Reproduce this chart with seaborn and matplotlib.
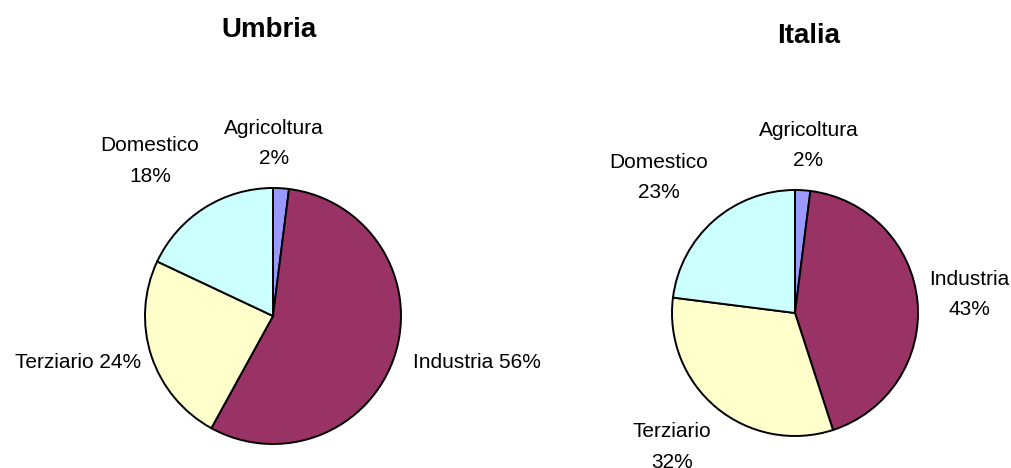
import matplotlib
matplotlib.use("Agg")
import matplotlib.pyplot as plt
import seaborn as sns

# ------------------------------------------------------------
# Dati: consumi per settore (%)
# ------------------------------------------------------------
settori = ["Agricoltura", "Industria", "Terziario", "Domestico"]
umbria = [2, 56, 24, 18]
italia = [2, 43, 32, 23]
colori = ["#9999FF", "#993366", "#FFFFCC", "#CCFFFF"]

sns.set_theme(style="white")
plt.rcParams["font.family"] = ["Liberation Sans", "DejaVu Sans"]
plt.rcParams["text.color"] = "black"

W, H = 1012, 468
fig = plt.figure(figsize=(W / 100, H / 100), dpi=100)


def torta(titolo, valori, cx, cy, r, x0, x1, pos_etichette, sep, tx, ty):
    # axes in pixel-like units: 1 data unit = radius r
    ax = fig.add_axes([x0 / W, 0, (x1 - x0) / W, 1])
    ax.pie(valori, colors=colori, startangle=90, counterclock=False,
           wedgeprops=dict(edgecolor="black", linewidth=1.4))
    ax.set_aspect("auto")
    ax.set_xlim((x0 - cx) / r, (x1 - cx) / r)
    ax.set_ylim((cy - H) / r, cy / r)
    ax.axis("off")
    for nome, val, (dx, dy, ha) in zip(settori, valori, pos_etichette):
        ax.text(dx, dy, f"{nome}{sep[ha]}{val}%", ha=ha, va="center",
                fontsize=15, linespacing=1.75, multialignment="center",
                color="black")
    fig.text(tx / W, 1 - ty / H, titolo, ha="center", va="baseline",
             fontsize=20, fontweight="bold", color="black")


# posizioni etichette (in raggi dal centro)
pos_umbria = [(0.01, 1.35, "center"), (1.09, -0.36, "left"),
              (-1.03, -0.36, "right"), (-0.96, 1.21, "center")]
pos_italia = [(0.11, 1.36, "center"), (1.42, 0.15, "center"),
              (-1.0, -1.09, "center"), (-1.11, 1.10, "center")]

torta("Umbria", umbria, 273, 316, 128, 0, 520,
      pos_umbria, {"center": "\n", "left": " ", "right": " "}, 269, 37)
torta("Italia", italia, 795, 313, 123, 520, W,
      pos_italia, {"center": "\n", "left": "\n", "right": "\n"}, 809, 43)

fig.savefig("out.png", dpi=100)
